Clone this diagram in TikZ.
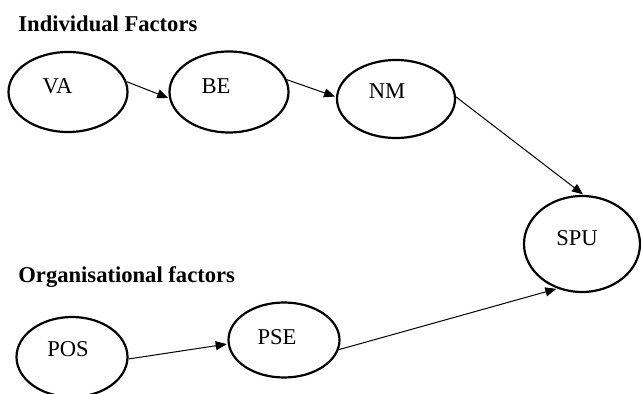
\documentclass[tikz,border=0pt]{standalone}
\usepackage{fontspec}
\setmainfont{Liberation Serif}
\usetikzlibrary{shapes.geometric,arrows.meta}

\begin{document}
\begin{tikzpicture}[x=0.5pt, y=-0.5pt, ->, >={Triangle[length=5.5pt,width=4.5pt]},
                    shorten >=0.5pt, font=\fontsize{11.3}{13}\selectfont,
                    factor/.style={ellipse, draw, line width=1.1pt, inner sep=0pt},
                    title/.style={anchor=base west, inner sep=0pt, font=\fontsize{11.3}{13}\selectfont\bfseries},
                    link/.style={line width=0.5pt}]
  \useasboundingbox (0,0) rectangle (641,394);

  % group titles
  \node[title] (indiv) at (18,32) {Individual Factors};
  \node[title] (organ) at (18,283) {Organisational factors};

  % individual factors
  \node[factor, minimum width=59.5pt, minimum height=40pt,
        label={[xshift=-5.25pt, yshift=3pt]center:VA}] (va) at (68,92) {};
  \node[factor, minimum width=59.5pt, minimum height=40.5pt,
        label={[xshift=-6.5pt, yshift=3pt]center:BE}] (be) at (229,92) {};
  \node[factor, minimum width=59pt, minimum height=39pt,
        label={[xshift=-4.5pt, yshift=3.75pt]center:NM}] (nm) at (396,99) {};

  % outcome
  \node[factor, minimum width=58pt, minimum height=48pt,
        label={[xshift=-2.5pt, yshift=3pt]center:SPU}] (spu) at (582,244) {};

  % organisational factors
  \node[factor, minimum width=55.5pt, minimum height=40pt,
        label={[xshift=-2pt, yshift=3.75pt]center:POS}] (pos) at (72,357) {};
  \node[factor, minimum width=55.5pt, minimum height=37.5pt,
        label={[xshift=-3.5pt, yshift=1.5pt]center:PSE}] (pse) at (284,340) {};

  \draw[link] (va.10) -- (be.186);
  \draw[link] (be.12) -- (nm.178);
  \draw[link] (nm.2) -- (spu.88);
  \draw[link] (pos.-2) -- (pse.184);
  \draw[link] (pse.-10) -- (spu.241);
\end{tikzpicture}
\end{document}
